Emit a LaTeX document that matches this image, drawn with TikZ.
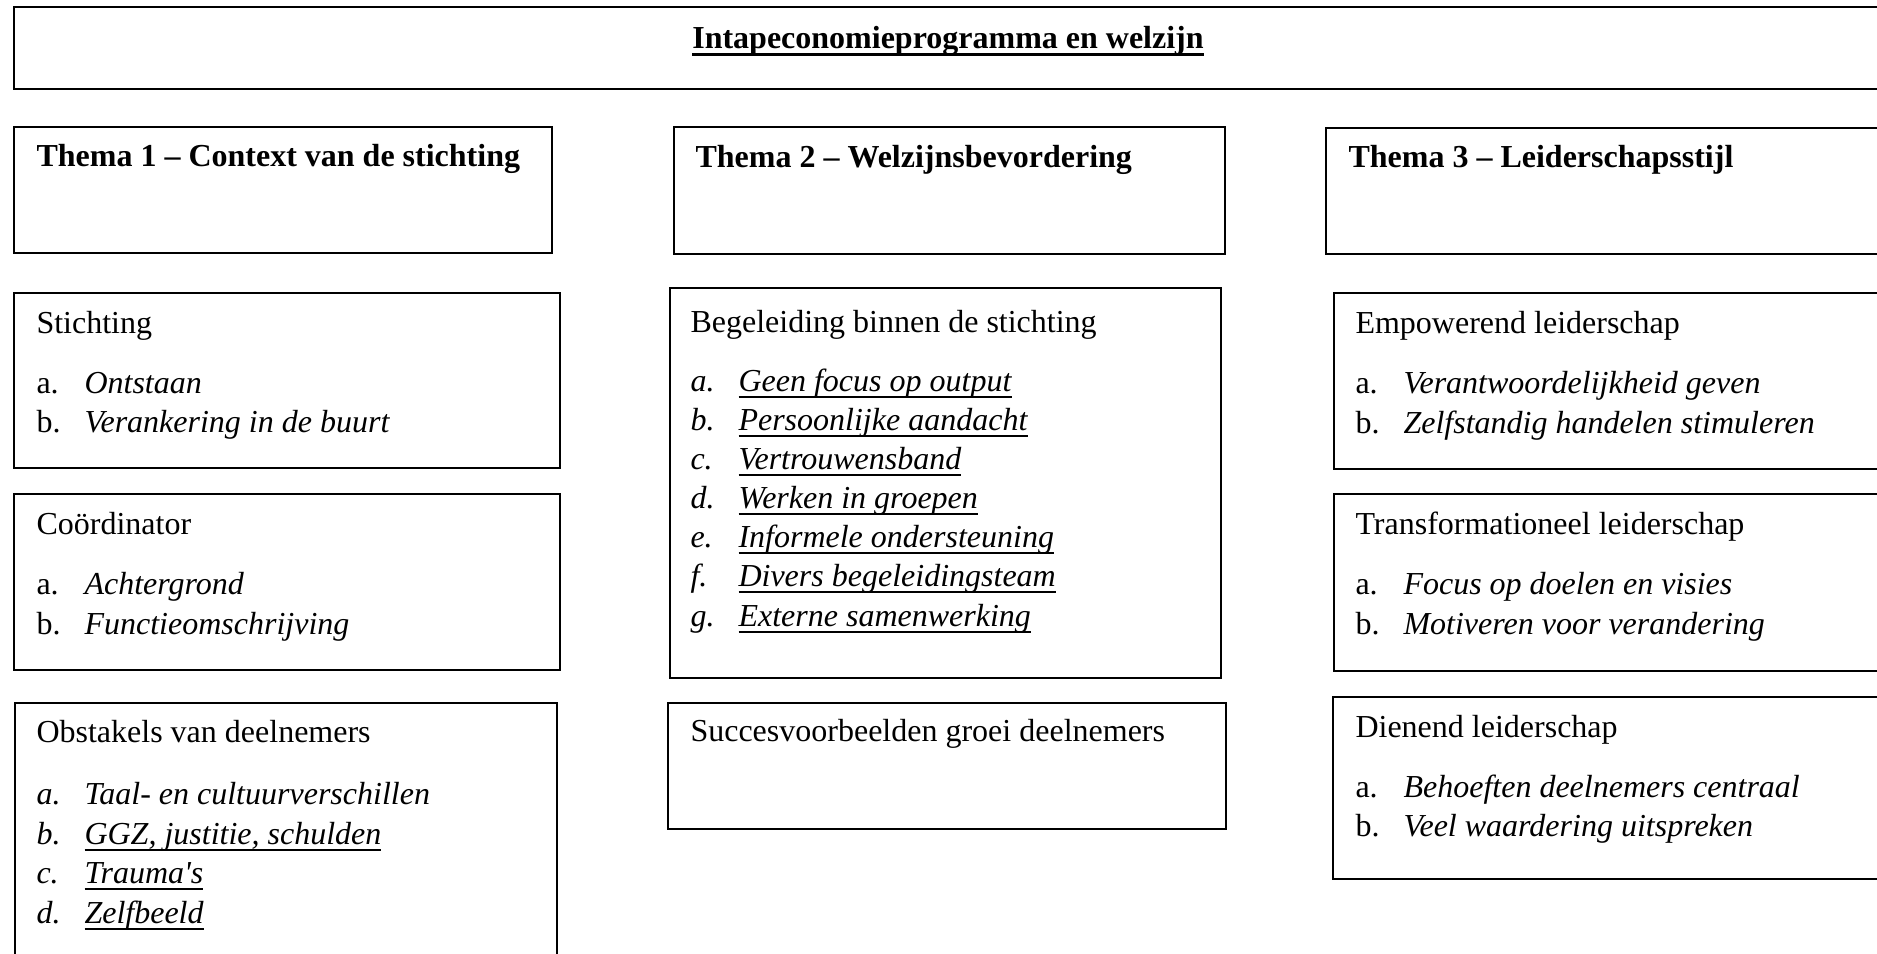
\documentclass[tikz,border=0pt]{standalone}
\usepackage{fontspec}
\setmainfont{Liberation Serif}
% onderstreping zoals in de tekstverwerker
\newcommand{\ondl}[1]{\setbox0\hbox{#1}\rlap{\vrule height -1.4pt depth 2.1pt width \wd0}\box0}
\newcommand{\ondlt}[1]{\setbox0\hbox{#1}\rlap{\vrule height -1.5pt depth 2.5pt width \wd0}\box0}

\begin{document}
\begin{tikzpicture}[x=0.375pt,y=-0.375pt,
  kader/.style={line width=0.75pt},
  tekst/.style={anchor=base west,inner sep=0pt,font=\fontsize{12}{14.8}\selectfont},
  kop/.style={tekst,font=\fontsize{12}{14.8}\selectfont\bfseries}]
\useasboundingbox (0,0) rectangle (1877,954);
\clip (0,0) rectangle (1877,954);
%titel
\draw[kader,line width=1.1pt] (14,7) rectangle (1900,89);
\node[kop,anchor=base] (titel) at (948,49) {\ondlt{Intapeconomieprogramma en welzijn}};
%thema's
\draw[kader] (14,127) rectangle (552,253); \node[kop] (thema1) at (36,167) {Thema 1 -- Context van de stichting};
\draw[kader] (674,127) rectangle (1225,254); \node[kop] (thema2) at (695,168) {Thema 2 -- Welzijnsbevordering};
\draw[kader] (1326,128) rectangle (1900,254); \node[kop] (thema3) at (1348,168) {Thema 3 -- Leiderschapsstijl};
%stichting
\draw[kader] (14,293) rectangle (560,468);
\node[tekst] (stichting) at (36,334) {Stichting};
\node[tekst] (st-a) at (36,394) {a.}; \node[tekst] (ontstaan) at (84,394) {\textit{Ontstaan}};
\node[tekst] (st-b) at (36,433) {b.}; \node[tekst] (verankering) at (84,433) {\textit{Verankering in de buurt}};
%coordinator
\draw[kader] (14,494) rectangle (560,670);
\node[tekst] (coordinator) at (36,535) {Coördinator};
\node[tekst] (co-a) at (36,595) {a.}; \node[tekst] (achtergrond) at (84,595) {\textit{Achtergrond}};
\node[tekst] (co-b) at (36,635) {b.}; \node[tekst] (functie) at (84,635) {\textit{Functieomschrijving}};
%obstakels
\draw[kader] (15,703) rectangle (557,980);
\node[tekst] (obstakels) at (36,743) {Obstakels van deelnemers};
\node[tekst] (ob-a) at (36,805) {\textit{a.}}; \node[tekst] (taal) at (84,805) {\textit{Taal- en cultuurverschillen}};
\node[tekst] (ob-b) at (36,845) {\textit{b.}}; \node[tekst] (ggz) at (84,845) {\ondl{\textit{GGZ, justitie, schulden}}};
\node[tekst] (ob-c) at (36,884) {\textit{c.}}; \node[tekst] (trauma) at (84,884) {\ondl{\textit{Trauma\textquotesingle s}}};
\node[tekst] (ob-d) at (36,924) {\textit{d.}}; \node[tekst] (zelfbeeld) at (84,924) {\ondl{\textit{Zelfbeeld}}};
%begeleiding
\draw[kader] (670,288) rectangle (1221,678);
\node[tekst] (begeleiding) at (690,333) {Begeleiding binnen de stichting};
\node[tekst] (be-a) at (690,392) {\textit{a.}}; \node[tekst] (output) at (738,392) {\ondl{\textit{Geen focus op output}}};
\node[tekst] (be-b) at (690,431) {\textit{b.}}; \node[tekst] (aandacht) at (738,431) {\ondl{\textit{Persoonlijke aandacht}}};
\node[tekst] (be-c) at (690,470) {\textit{c.}}; \node[tekst] (vertrouwen) at (738,470) {\ondl{\textit{Vertrouwensband}}};
\node[tekst] (be-d) at (690,509) {\textit{d.}}; \node[tekst] (groepen) at (738,509) {\ondl{\textit{Werken in groepen}}};
\node[tekst] (be-e) at (690,548) {\textit{e.}}; \node[tekst] (informeel) at (738,548) {\ondl{\textit{Informele ondersteuning}}};
\node[tekst] (be-f) at (690,587) {\textit{f.}}; \node[tekst] (team) at (738,587) {\ondl{\textit{Divers begeleidingsteam}}};
\node[tekst] (be-g) at (690,627) {\textit{g.}}; \node[tekst] (extern) at (738,627) {\ondl{\textit{Externe samenwerking}}};
%succesvoorbeelden
\draw[kader] (668,703) rectangle (1226,829);
\node[tekst] (succes) at (690,742) {Succesvoorbeelden groei deelnemers};
%empowerend
\draw[kader] (1334,293) rectangle (1900,469);
\node[tekst] (empowerend) at (1355,334) {Empowerend leiderschap};
\node[tekst] (em-a) at (1355,394) {a.}; \node[tekst] (verantwoordelijk) at (1403,394) {\textit{Verantwoordelijkheid geven}};
\node[tekst] (em-b) at (1355,434) {b.}; \node[tekst] (zelfstandig) at (1403,434) {\textit{Zelfstandig handelen stimuleren}};
%transformationeel
\draw[kader] (1334,494) rectangle (1900,671);
\node[tekst] (transformationeel) at (1355,535) {Transformationeel leiderschap};
\node[tekst] (tr-a) at (1355,595) {a.}; \node[tekst] (doelen) at (1403,595) {\textit{Focus op doelen en visies}};
\node[tekst] (tr-b) at (1355,635) {b.}; \node[tekst] (motiveren) at (1403,635) {\textit{Motiveren voor verandering}};
%dienend
\draw[kader] (1333,697) rectangle (1900,879);
\node[tekst] (dienend) at (1355,738) {Dienend leiderschap};
\node[tekst] (di-a) at (1355,798) {a.}; \node[tekst] (behoeften) at (1403,798) {\textit{Behoeften deelnemers centraal}};
\node[tekst] (di-b) at (1355,837) {b.}; \node[tekst] (waardering) at (1403,837) {\textit{Veel waardering uitspreken}};
\end{tikzpicture}
\end{document}
